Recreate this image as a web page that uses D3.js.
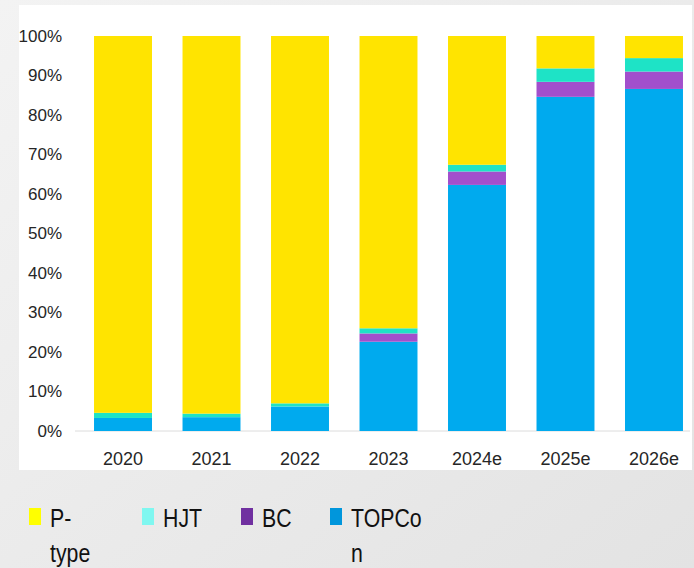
<!DOCTYPE html>
<html>
<head>
<meta charset="utf-8">
<script src="https://cdn.jsdelivr.net/npm/d3@7"></script>
<style>
  html, body { margin: 0; padding: 0; background: #ebebeb; }
  svg { display: block; }
</style>
</head>
<body>
<div id="chart"></div>
<script>
// ---- data ----
const categories = ["2020", "2021", "2022", "2023", "2024e", "2025e", "2026e"];
const seriesNames = ["TOPCon", "BC", "HJT", "P-type"];
const topcon = [0.033, 0.035, 0.062, 0.226, 0.623, 0.846, 0.866];
const bc     = [0.000, 0.000, 0.000, 0.021, 0.034, 0.038, 0.044];
const hjt    = [0.013, 0.009, 0.008, 0.013, 0.017, 0.034, 0.034];
const ptype  = [0.954, 0.956, 0.930, 0.740, 0.326, 0.082, 0.056];
const yTicks = [0, 0.1, 0.2, 0.3, 0.4, 0.5, 0.6, 0.7, 0.8, 0.9, 1.0];
const legendLabels = [["P-", "type"], ["HJT"], ["BC"], ["TOPCo", "n"]];

// ---- styles ----
const barColors = { "TOPCon": "#00aaee", "BC": "#a24fcc", "HJT": "#1ee3c6", "P-type": "#ffe400" };
const legendColors = ["#ffff00", "#7ff7f0", "#7030a0", "#0096dc"];
const legendX = [29, 142, 241, 330];

const W = 694, H = 568;
const svg = d3.select("#chart").append("svg").attr("width", W).attr("height", H);

const defs = svg.append("defs");
const grad = defs.append("linearGradient").attr("id", "bg").attr("x1", "0").attr("y1", "0").attr("x2", "1").attr("y2", "1");
grad.append("stop").attr("offset", "0%").attr("stop-color", "#f3f3f3");
grad.append("stop").attr("offset", "100%").attr("stop-color", "#e3e3e3");
svg.append("rect").attr("width", W).attr("height", H).attr("fill", "url(#bg)");

// white plot panel
svg.append("rect").attr("x", 19).attr("y", 5).attr("width", 673).attr("height", 465).attr("fill", "#ffffff");

const x = d3.scaleBand().domain(categories).range([89.6, 687.4]).paddingInner(0.345).paddingOuter(0.05);
const y = d3.scaleLinear().domain([0, 1]).range([431, 36]);

// baseline
svg.append("line").attr("x1", 75).attr("x2", 690).attr("y1", y(0)).attr("y2", y(0))
  .attr("stroke", "#dcdcdc").attr("stroke-width", 1);

// stacked data
const rows = categories.map((c, i) => ({ cat: c, "TOPCon": topcon[i], "BC": bc[i], "HJT": hjt[i], "P-type": ptype[i] }));
const stack = d3.stack().keys(seriesNames)(rows);

svg.append("g").selectAll("g").data(stack).join("g")
  .attr("fill", d => barColors[d.key])
  .selectAll("rect").data(d => d).join("rect")
  .attr("x", d => x(d.data.cat))
  .attr("width", x.bandwidth())
  .attr("y", d => y(d[1]))
  .attr("height", d => Math.max(0, y(d[0]) - y(d[1])));

// y axis
const yAxis = svg.append("g").attr("transform", "translate(62,0)")
  .call(d3.axisLeft(y).tickValues(yTicks).tickFormat(d3.format(".0%")).tickSize(0).tickPadding(0));
yAxis.select(".domain").remove();
yAxis.selectAll("text").attr("font-family", "'Liberation Sans', Arial, sans-serif")
  .attr("font-size", 17).attr("fill", "#262626");

// x axis
const xAxis = svg.append("g").attr("transform", `translate(0,${y(0)})`)
  .call(d3.axisBottom(x).tickSize(0).tickPadding(21));
xAxis.select(".domain").remove();
xAxis.selectAll("text").attr("font-family", "'Liberation Sans', Arial, sans-serif")
  .attr("font-size", 18).attr("fill", "#262626");

// legend
const leg = svg.append("g");
legendLabels.forEach((lines, i) => {
  leg.append("rect").attr("x", legendX[i]).attr("y", 508).attr("width", 12).attr("height", 17)
    .attr("fill", legendColors[i]);
  const t = leg.append("text")
    .attr("transform", `translate(${legendX[i] + 21},527) scale(0.82,1)`)
    .attr("font-family", "'Liberation Sans', Arial, sans-serif")
    .attr("font-size", 26).attr("fill", "#111");
  lines.forEach((ln, j) => {
    t.append("tspan").attr("x", 0).attr("y", j * 35).text(ln);
  });
});
</script>
</body>
</html>
